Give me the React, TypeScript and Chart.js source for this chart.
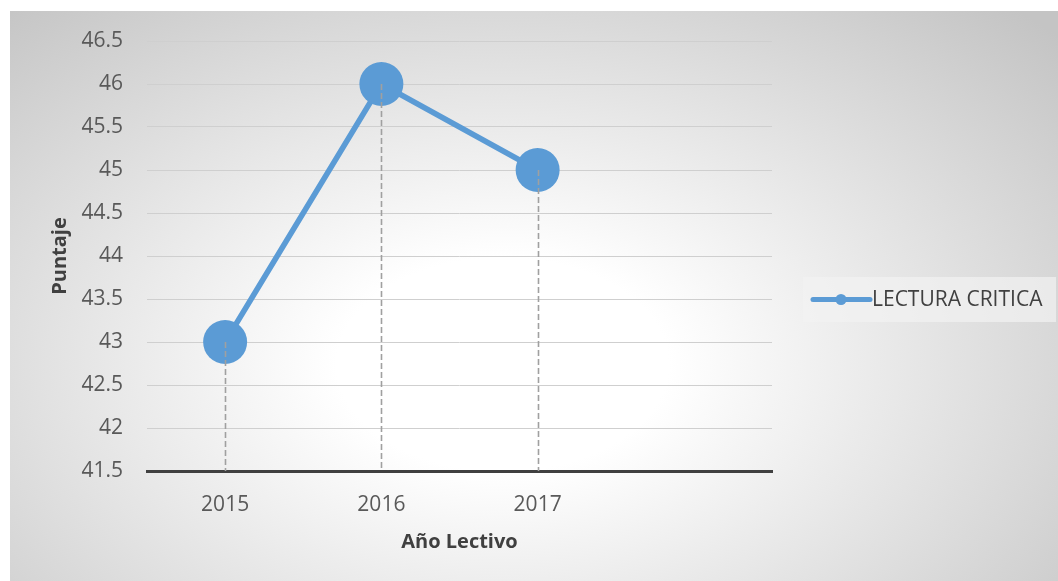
import React, { useEffect, useRef } from "react";
import { Chart, registerables } from "chart.js";

Chart.register(...registerables);

const categories = ["2015", "2016", "2017", ""];
const seriesName = "LECTURA CRITICA";
const seriesValues = [43, 46, 45, null];
const yMin = 41.5;
const yMax = 46.5;
const yStep = 0.5;
const xTitle = "Año Lectivo";
const yTitle = "Puntaje";

const BLUE = "#5b9bd5";
const FONT = "'Open Sans', 'Liberation Sans', sans-serif";

const dropLinesPlugin = {
  id: "dropLines",
  afterDatasetsDraw(chart: any) {
    const { ctx, chartArea } = chart;
    const meta = chart.getDatasetMeta(0);
    ctx.save();
    ctx.strokeStyle = "#a0a0a0";
    ctx.lineWidth = 1.6;
    ctx.setLineDash([6, 3]);
    meta.data.forEach((pt: any, i: number) => {
      if (seriesValues[i] == null) return;
      ctx.beginPath();
      ctx.moveTo(Math.round(pt.x) + 0.5, pt.y);
      ctx.lineTo(Math.round(pt.x) + 0.5, chartArea.bottom);
      ctx.stroke();
    });
    ctx.restore();
  },
};

const legendPlugin = {
  id: "customLegend",
  afterDraw(chart: any) {
    const { ctx } = chart;
    const bx = 793, by = 266, bw = 253, bh = 45;
    ctx.save();
    ctx.fillStyle = "rgba(242,242,242,0.7)";
    ctx.fillRect(bx, by, bw, bh);
    const cy = by + bh / 2;
    ctx.strokeStyle = BLUE;
    ctx.lineWidth = 5;
    ctx.lineCap = "round";
    ctx.beginPath();
    ctx.moveTo(bx + 10, cy);
    ctx.lineTo(bx + 67, cy);
    ctx.stroke();
    ctx.fillStyle = BLUE;
    ctx.beginPath();
    ctx.arc(bx + 38, cy, 5.5, 0, Math.PI * 2);
    ctx.fill();
    ctx.fillStyle = "#404040";
    ctx.font = `21px ${FONT}`;
    ctx.textBaseline = "middle";
    ctx.textAlign = "left";
    ctx.fillText(seriesName, bx + 69, cy + 1);
    ctx.restore();
  },
};

export default function App() {
  const ref = useRef<HTMLCanvasElement | null>(null);

  useEffect(() => {
    if (!ref.current) return;
    const chart = new Chart(ref.current, {
      type: "line",
      data: {
        labels: categories,
        datasets: [
          {
            label: seriesName,
            data: seriesValues,
            borderColor: BLUE,
            backgroundColor: BLUE,
            borderWidth: 5.5,
            pointRadius: 22,
            pointHoverRadius: 22,
            pointBackgroundColor: BLUE,
            pointBorderWidth: 0,
            tension: 0,
          },
        ],
      },
      options: {
        animation: false,
        responsive: false,
        devicePixelRatio: 1,
        layout: { padding: { top: 30, right: 286, bottom: 0, left: 0 } },
        plugins: {
          legend: { display: false },
          tooltip: { enabled: false },
        },
        scales: {
          x: {
            offset: true,
            grid: { display: false, drawTicks: false },
            border: { display: true, color: "#404040", width: 3 },
            ticks: {
              color: "#595959",
              font: { family: FONT, size: 21 },
              padding: 21,
              maxRotation: 0,
              autoSkip: false,
            },
            title: {
              display: true,
              text: xTitle,
              color: "#404040",
              font: { family: FONT, size: 20, weight: "bold" },
              padding: { top: 0, bottom: 27 },
            },
            afterFit(scale: any) {
              scale.height = 110;
              scale.paddingLeft = 0;
              scale.paddingRight = 0;
            },
          },
          y: {
            min: yMin,
            max: yMax,
            grid: {
              drawTicks: false,
              color: (c: any) => (c.tick && c.tick.value === yMin ? "rgba(0,0,0,0)" : "#cfcfcf"),
              lineWidth: 1,
            },
            border: { display: false },
            ticks: {
              stepSize: yStep,
              color: "#595959",
              font: { family: FONT, size: 21 },
              padding: 24,
              callback: (v: any) => String(v),
            },
            title: {
              display: true,
              text: yTitle,
              color: "#404040",
              font: { family: FONT, size: 20, weight: "bold" },
              padding: { top: 38, bottom: 0 },
            },
            afterFit(scale: any) {
              scale.width = 137;
              scale.paddingTop = 0;
              scale.paddingBottom = 0;
            },
          },
        },
      },
      plugins: [dropLinesPlugin, legendPlugin],
    });
    return () => chart.destroy();
  }, []);

  return (
    <div
      style={{
        position: "fixed",
        left: 0,
        top: 0,
        width: 1058,
        height: 581,
        background: "#ffffff",
        overflow: "hidden",
      }}
    >
      <div
        style={{
          position: "absolute",
          left: 10,
          top: 11,
          width: 1048,
          height: 570,
          background:
            "radial-gradient(ellipse 72% 85% at 47% 62%, #ffffff 0%, #ffffff 22%, #c4c4c4 100%)",
        }}
      >
        <canvas ref={ref} width={1048} height={570} style={{ display: "block" }} />
      </div>
    </div>
  );
}
